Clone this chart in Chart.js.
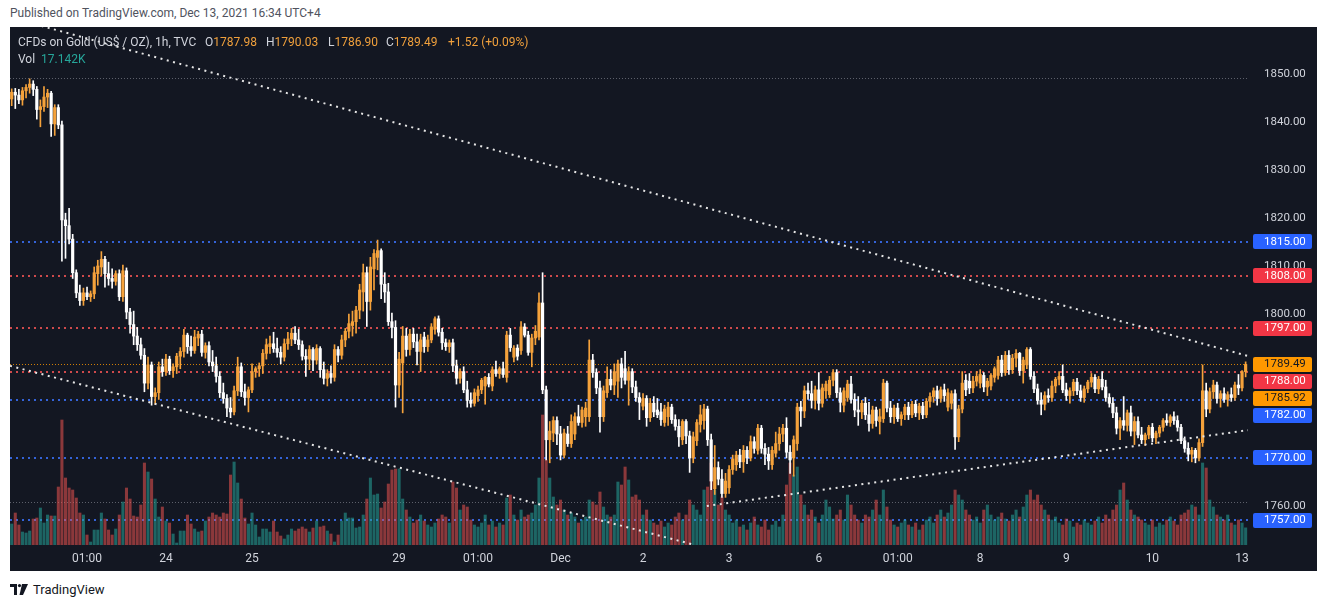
<!DOCTYPE html>
<html><head><meta charset="utf-8">
<script src="https://cdn.jsdelivr.net/npm/chart.js@4.4.0/dist/chart.umd.min.js"></script>
<style>
html,body{margin:0;padding:0;background:#fff;width:1328px;height:607px;overflow:hidden;font-family:Roboto,"Noto Sans",sans-serif;}
#pub{position:absolute;left:10px;top:6px;font-size:12px;color:#50535e;white-space:nowrap;}
#box{position:absolute;left:10px;top:27px;width:1307px;height:544px;background:#131722;}
#c{position:absolute;left:0;top:0;}
.hd{position:absolute;font-size:12px;color:#d1d4dc;white-space:nowrap;line-height:14px;}
.o{color:#f0a03c;}
.t{color:#26a69a;}
#logo{position:absolute;left:10px;top:581px;height:16px;display:flex;align-items:center;font-size:13px;color:#131722;}
#logo svg{margin-right:5px;}
</style></head>
<body>
<div id="pub">Published on TradingView.com, Dec 13, 2021 16:34 UTC+4</div>
<div id="box">
<canvas id="c" width="1307" height="544"></canvas>
<div class="hd" style="left:8px;top:8px;">CFDs on Gold (US$ / OZ), 1h, TVC</div>
<div class="hd" style="left:195px;top:8px;">O<span class="o">1787.98</span></div>
<div class="hd" style="left:256px;top:8px;">H<span class="o">1790.03</span></div>
<div class="hd" style="left:318px;top:8px;">L<span class="o">1786.90</span></div>
<div class="hd" style="left:376px;top:8px;">C<span class="o">1789.49</span></div>
<div class="hd o" style="left:438px;top:8px;">+1.52 (+0.09%)</div>
<div class="hd" style="left:8px;top:25px;">Vol <span class="t" style="margin-left:3px">17.142K</span></div>
</div>
<div id="logo"><svg width="18" height="11" viewBox="0 0 18 11"><path d="M0 0H7V11H4V3H0Z" fill="#131722"/><circle cx="9.5" cy="1.6" r="1.6" fill="#131722"/><path d="M12 0H18L13 11H9.5Z" fill="#131722"/></svg>TradingView</div>
<script>
// ---- OHLC data: [open, high, low, close] per hourly candle ----
const ohlc01 = [
[1844.8,1846.9,1843.4,1846.2],[1846.2,1847.0,1842.8,1845.6],[1845.6,1846.8,1843.8,1844.6],[1844.6,1847.2,1843.5,1846.5],[1846.5,1847.8,1845.0,1847.2],
[1847.2,1849.0,1846.0,1847.9],[1847.9,1848.6,1845.5,1846.8],[1846.8,1847.4,1840.6,1842.6],[1842.6,1844.6,1839.0,1843.2],[1843.2,1847.4,1842.2,1845.2],
[1845.2,1846.8,1843.0,1846.0],[1846.0,1846.4,1837.0,1839.6],[1839.6,1843.6,1837.2,1843.0],[1843.0,1843.6,1838.6,1839.4],[1839.4,1840.2,1811.0,1819.6],
[1819.6,1821.0,1811.6,1818.4],[1818.4,1822.0,1814.6,1815.6],[1815.6,1816.6,1807.4,1808.6],[1808.6,1809.2,1803.4,1804.4],[1804.4,1806.0,1801.8,1802.8],
[1802.8,1805.4,1801.8,1804.4],[1804.4,1805.6,1803.0,1803.6],[1803.6,1804.8,1802.6,1804.2],[1804.2,1809.8,1803.2,1808.6],[1808.4,1811.2,1806.0,1810.0]];
const ohlc02 = [
[1809.8,1813.0,1808.0,1811.4],[1811.4,1812.0,1805.6,1808.4],[1808.4,1810.8,1806.0,1807.4],[1807.4,1809.4,1805.4,1806.8],[1806.8,1809.0,1806.0,1808.4],
[1808.4,1809.2,1802.8,1803.6],[1803.6,1810.2,1802.6,1809.0],[1809.0,1809.6,1799.0,1800.4],[1800.4,1801.2,1796.0,1797.8],[1797.8,1800.6,1793.6,1795.4],
[1795.4,1797.2,1792.4,1793.6],[1793.6,1795.0,1790.6,1791.4],[1791.4,1792.8,1783.8,1785.6],[1785.6,1791.0,1784.4,1789.4],[1789.4,1790.0,1781.0,1782.8],
[1782.8,1784.6,1781.2,1783.6],[1783.6,1790.0,1782.2,1789.0],[1789.0,1790.6,1787.0,1788.0],[1788.0,1791.6,1787.2,1790.6],[1790.6,1791.2,1787.4,1788.2],
[1788.2,1789.6,1786.8,1789.0],[1789.0,1791.8,1787.6,1791.2],[1791.2,1793.0,1788.6,1792.2],[1792.2,1796.8,1791.0,1795.6],[1795.6,1796.0,1791.8,1793.2]];
const ohlc03 = [
[1793.2,1795.4,1791.2,1792.4],[1792.4,1796.6,1791.8,1795.2],[1795.0,1796.4,1793.4,1795.8],[1795.8,1796.6,1791.2,1792.0],[1792.0,1794.0,1790.8,1793.4],
[1793.4,1794.2,1789.2,1790.0],[1790.0,1792.4,1788.0,1789.2],[1789.2,1791.0,1785.8,1787.0],[1787.0,1788.0,1782.6,1783.6],[1783.6,1785.6,1781.4,1782.4],
[1782.4,1783.2,1778.6,1780.4],[1780.4,1782.6,1778.4,1779.6],[1779.6,1785.0,1779.0,1784.0],[1784.0,1791.0,1783.0,1789.0],[1789.0,1789.8,1782.8,1783.8],
[1783.8,1785.4,1781.0,1782.6],[1782.6,1784.8,1779.6,1784.2],[1784.2,1789.6,1783.6,1788.0],[1788.0,1789.0,1786.8,1788.6],[1788.6,1789.8,1787.0,1789.2],
[1789.2,1792.6,1787.6,1791.8],[1791.8,1794.8,1790.6,1793.6],[1793.2,1795.4,1791.8,1793.8],[1793.8,1796.2,1792.0,1792.8],[1792.8,1795.0,1791.0,1792.0]];
const ohlc04 = [
[1792.0,1793.2,1789.6,1791.0],[1791.0,1794.8,1790.2,1793.8],[1793.8,1796.2,1792.6,1794.8],[1794.8,1797.0,1793.4,1796.0],[1796.0,1797.4,1793.8,1794.6],
[1794.6,1796.8,1792.6,1793.6],[1793.6,1794.4,1790.4,1791.2],[1791.2,1792.6,1787.0,1790.6],[1790.6,1793.4,1788.4,1792.6],[1792.6,1793.0,1788.2,1790.4],
[1790.4,1793.6,1789.6,1792.8],[1792.8,1793.2,1786.8,1788.4],[1788.4,1790.0,1785.4,1786.6],[1786.6,1788.4,1785.0,1787.6],[1787.6,1789.2,1785.6,1786.8],
[1786.8,1793.6,1786.0,1792.6],[1792.6,1793.2,1790.0,1791.4],[1791.4,1795.6,1790.6,1794.6],[1794.6,1797.0,1793.2,1796.4],[1796.4,1800.0,1795.0,1798.0],
[1797.6,1800.6,1795.4,1798.4],[1798.4,1801.6,1796.0,1800.8],[1800.8,1806.2,1799.0,1805.0],[1804.6,1810.4,1800.6,1808.6],[1808.6,1809.8,1797.4,1802.6]];
const ohlc05 = [
[1802.6,1811.8,1800.8,1809.8],[1809.4,1813.4,1805.0,1812.6],[1811.8,1815.4,1809.2,1813.2],[1813.2,1813.6,1803.2,1806.2],[1806.2,1808.6,1802.4,1804.6],
[1804.6,1806.4,1797.6,1798.4],[1798.4,1800.2,1795.0,1797.2],[1797.2,1798.6,1780.6,1785.2],[1785.2,1792.0,1782.6,1790.6],[1789.8,1797.4,1779.4,1795.4],
[1795.4,1797.0,1791.2,1792.6],[1792.6,1796.8,1791.4,1795.8],[1795.8,1797.0,1793.0,1794.2],[1794.2,1795.8,1789.4,1792.2],[1792.2,1795.8,1788.0,1794.6],
[1795.2,1796.2,1792.0,1793.2],[1793.2,1795.6,1792.2,1794.6],[1794.6,1798.0,1794.0,1797.3],[1796.8,1799.4,1795.8,1799.0],[1799.0,1799.6,1795.4,1796.2],
[1796.2,1797.0,1792.6,1794.0],[1794.0,1794.8,1792.4,1793.2],[1793.2,1794.6,1792.0,1794.0],[1794.0,1794.8,1788.0,1789.2],[1789.2,1790.4,1785.4,1786.6]];
const ohlc06 = [
[1786.6,1788.6,1785.6,1788.0],[1788.0,1789.0,1783.6,1784.2],[1784.2,1786.0,1780.6,1782.0],[1782.0,1783.6,1780.6,1781.4],[1781.4,1784.4,1780.8,1783.6],
[1783.0,1785.0,1781.8,1784.2],[1784.2,1786.6,1783.4,1786.2],[1785.0,1787.0,1781.2,1786.8],[1786.8,1787.6,1784.8,1785.4],[1785.0,1789.0,1784.0,1788.4],
[1788.4,1790.2,1787.0,1787.6],[1787.6,1789.0,1786.6,1788.6],[1788.6,1790.0,1786.8,1787.4],[1786.8,1796.4,1785.8,1795.6],[1795.6,1797.0,1792.2,1793.0],
[1791.0,1793.4,1790.0,1792.9],[1792.9,1793.6,1790.4,1791.2],[1792.4,1798.4,1791.6,1797.3],[1797.3,1798.0,1795.2,1795.6],[1795.6,1796.4,1791.4,1792.0],
[1792.0,1795.8,1789.0,1795.0],[1795.0,1797.6,1793.6,1796.4],[1795.2,1804.4,1794.6,1802.3],[1802.3,1808.6,1783.4,1784.2],[1784.2,1785.0,1769.6,1773.8]];
const ohlc07 = [
[1773.8,1777.6,1769.0,1775.6],[1775.2,1778.6,1773.4,1777.8],[1777.8,1778.6,1772.8,1775.0],[1775.0,1776.6,1769.6,1770.6],[1770.6,1776.0,1770.0,1775.2],
[1775.0,1776.6,1772.4,1773.0],[1773.0,1779.0,1772.2,1777.6],[1775.0,1779.4,1773.8,1778.6],[1778.6,1781.0,1776.8,1777.4],[1777.4,1780.6,1776.4,1780.0],
[1778.6,1781.6,1776.6,1780.4],[1778.6,1794.6,1777.6,1790.4],[1790.4,1791.6,1786.8,1787.8],[1787.8,1788.6,1783.4,1784.6],[1784.6,1786.0,1775.4,1778.6],
[1778.6,1785.0,1777.6,1784.0],[1783.6,1789.0,1782.6,1786.4],[1786.4,1788.4,1784.2,1785.2],[1785.2,1789.6,1783.2,1788.0],[1786.0,1790.4,1782.6,1789.6],
[1789.6,1790.8,1784.6,1786.8],[1788.6,1792.2,1785.4,1786.2],[1786.2,1789.0,1781.0,1788.0],[1788.0,1788.6,1783.6,1784.8],[1784.8,1786.0,1781.8,1782.6]];
const ohlc08 = [
[1782.6,1783.6,1778.0,1781.6],[1780.8,1783.4,1780.0,1782.4],[1782.4,1783.0,1776.6,1778.4],[1778.4,1782.4,1777.6,1781.4],[1781.4,1782.8,1778.6,1779.6],
[1780.0,1782.4,1778.4,1779.0],[1779.6,1781.4,1776.8,1778.0],[1777.4,1781.0,1776.6,1780.2],[1778.6,1781.6,1776.8,1780.6],[1780.6,1781.2,1777.2,1778.0],
[1778.0,1779.0,1775.8,1776.6],[1776.6,1778.0,1772.4,1774.4],[1773.8,1778.0,1772.8,1777.6],[1777.6,1778.0,1773.0,1774.6],[1774.6,1775.6,1767.0,1770.0],
[1770.0,1775.4,1769.0,1774.4],[1773.6,1778.0,1772.6,1777.4],[1777.0,1781.0,1775.4,1779.0],[1777.8,1781.2,1776.0,1780.2],[1780.2,1780.8,1772.6,1773.8],
[1773.8,1775.0,1763.4,1765.2],[1763.6,1772.6,1762.4,1768.0],[1768.0,1769.2,1764.4,1765.6],[1765.6,1767.6,1761.8,1762.6],[1762.6,1766.8,1761.8,1765.2]];
const ohlc09 = [
[1763.8,1768.4,1762.6,1767.6],[1767.6,1770.6,1766.6,1769.8],[1768.6,1771.4,1767.4,1770.6],[1770.6,1771.8,1768.0,1769.2],[1769.2,1772.6,1767.0,1771.6],
[1771.6,1772.4,1768.8,1770.0],[1770.0,1774.6,1769.4,1773.4],[1773.4,1774.4,1771.0,1772.0],[1771.6,1777.0,1770.8,1776.2],[1776.2,1776.8,1771.0,1772.0],
[1772.0,1773.0,1768.6,1770.8],[1770.8,1772.2,1767.6,1769.4],[1768.6,1772.4,1767.6,1771.6],[1771.0,1775.4,1770.2,1773.0],[1773.0,1776.4,1771.6,1775.0],
[1775.0,1777.0,1773.4,1776.2],[1776.2,1778.4,1770.0,1771.2],[1771.2,1772.6,1766.8,1769.6],[1770.0,1774.6,1766.2,1773.8],[1773.0,1781.4,1771.6,1780.6],
[1780.6,1781.8,1776.6,1779.8],[1779.8,1785.0,1778.4,1784.0],[1784.0,1785.6,1782.2,1783.4],[1783.4,1786.0,1780.4,1782.0],[1782.0,1785.0,1780.2,1784.2]];
const ohlc10 = [
[1784.2,1787.8,1780.0,1781.4],[1781.4,1785.4,1780.6,1784.6],[1784.0,1786.0,1782.4,1785.4],[1783.2,1787.0,1782.6,1786.2],[1786.2,1788.4,1785.0,1787.8],
[1787.8,1788.4,1782.6,1783.6],[1783.6,1784.6,1779.6,1781.6],[1781.0,1784.6,1779.6,1784.0],[1782.6,1786.2,1781.8,1785.4],[1785.4,1787.0,1781.4,1782.2],
[1782.2,1783.4,1778.6,1780.0],[1780.0,1782.8,1776.8,1779.6],[1779.6,1782.0,1778.2,1781.4],[1781.4,1782.6,1778.0,1779.0],[1779.0,1781.6,1775.6,1777.2],
[1777.2,1780.8,1776.2,1780.0],[1780.0,1780.6,1776.6,1777.8],[1777.6,1780.2,1775.0,1778.6],[1778.2,1786.4,1777.4,1785.6],[1785.6,1786.0,1779.6,1780.4],
[1780.4,1781.8,1777.4,1778.6],[1778.6,1781.0,1777.2,1780.4],[1780.4,1781.4,1777.6,1778.2],[1778.2,1779.6,1776.8,1779.0],[1779.0,1781.2,1778.0,1780.6]];
const ohlc11 = [
[1780.6,1781.6,1778.0,1779.0],[1779.0,1781.8,1778.4,1781.2],[1781.2,1782.0,1778.6,1779.4],[1779.4,1781.4,1778.0,1780.8],[1780.8,1781.6,1778.2,1779.0],
[1779.0,1782.4,1778.4,1781.8],[1781.8,1783.6,1780.6,1782.8],[1782.8,1784.6,1781.6,1784.0],[1784.0,1785.0,1781.0,1782.4],[1782.4,1784.8,1781.6,1784.2],
[1784.2,1785.4,1781.8,1783.0],[1780.6,1784.4,1779.8,1783.6],[1781.4,1784.0,1780.2,1783.4],[1783.4,1784.2,1771.8,1774.4],[1774.4,1781.0,1773.4,1780.2],
[1780.2,1788.0,1779.4,1785.6],[1786.2,1787.4,1783.0,1784.2],[1786.0,1787.6,1783.4,1784.6],[1784.6,1787.0,1783.6,1786.0],[1786.0,1788.0,1785.0,1787.0],
[1785.6,1788.4,1784.6,1787.4],[1787.2,1787.8,1783.8,1784.8],[1784.8,1786.6,1783.0,1786.0],[1785.0,1787.6,1784.2,1787.2],[1786.8,1789.0,1785.8,1788.6]];
const ohlc12 = [
[1787.2,1791.2,1786.4,1790.4],[1790.4,1791.4,1787.0,1787.8],[1787.8,1792.2,1787.2,1791.4],[1791.4,1792.4,1787.4,1788.4],[1788.4,1791.6,1787.6,1790.8],
[1790.8,1792.6,1789.0,1791.8],[1791.8,1792.0,1787.2,1788.2],[1788.2,1791.0,1785.6,1790.4],[1789.4,1793.0,1788.6,1792.6],[1792.6,1793.0,1786.4,1787.0],
[1787.0,1788.0,1783.6,1784.4],[1784.4,1785.4,1781.2,1782.0],[1782.0,1783.6,1779.0,1781.2],[1781.2,1783.8,1780.0,1783.0],[1783.0,1784.4,1781.6,1782.6],
[1782.6,1786.0,1781.8,1785.0],[1785.0,1786.8,1783.6,1786.4],[1786.4,1788.0,1785.2,1787.0],[1787.0,1789.4,1783.6,1784.2],[1784.2,1785.6,1782.0,1783.0],
[1783.0,1784.6,1781.4,1784.0],[1784.0,1786.4,1783.0,1785.8],[1785.8,1786.6,1783.2,1784.0],[1784.0,1785.2,1781.8,1782.6],[1782.6,1785.0,1781.6,1784.4]];
const ohlc13 = [
[1784.4,1786.2,1783.6,1785.8],[1785.8,1787.6,1784.8,1786.8],[1786.8,1787.4,1783.6,1784.4],[1784.4,1787.0,1783.4,1786.4],[1786.4,1788.0,1784.2,1784.8],
[1784.8,1786.2,1781.8,1782.6],[1782.6,1783.4,1780.6,1781.4],[1781.4,1782.6,1778.4,1779.4],[1779.4,1780.6,1775.0,1776.2],[1776.2,1778.4,1773.8,1777.8],
[1777.8,1782.8,1775.8,1776.8],[1776.8,1780.0,1775.6,1779.4],[1779.4,1780.8,1774.6,1775.6],[1775.6,1778.6,1772.8,1777.6],[1777.6,1778.6,1774.2,1774.8],
[1774.8,1776.4,1773.0,1773.8],[1773.8,1775.2,1772.6,1774.8],[1774.8,1776.8,1774.0,1776.4],[1776.4,1777.2,1773.4,1774.2],[1774.2,1775.6,1773.0,1775.2],
[1775.2,1776.8,1774.4,1776.4],[1776.4,1778.2,1775.6,1777.8],[1777.8,1779.2,1776.8,1777.4],[1777.4,1779.0,1776.6,1778.6],[1778.6,1779.6,1777.0,1777.8]];
const ohlc14 = [
[1777.8,1778.8,1775.6,1776.4],[1776.4,1777.0,1773.0,1773.6],[1773.6,1774.4,1771.2,1772.0],[1772.0,1773.2,1769.4,1770.8],[1770.8,1772.2,1769.2,1771.6],
[1771.6,1772.0,1769.0,1770.0],[1770.0,1774.0,1769.4,1773.2],[1773.2,1789.4,1772.4,1784.0],[1784.0,1785.6,1778.6,1780.2],[1780.2,1784.6,1779.4,1783.8],
[1783.8,1786.2,1782.4,1785.2],[1785.2,1785.8,1781.4,1782.4],[1782.4,1784.0,1780.6,1783.4],[1783.4,1784.6,1781.6,1782.2],[1782.2,1783.8,1780.8,1783.2],
[1783.2,1784.6,1781.8,1782.6],[1782.6,1785.8,1782.0,1785.2],[1785.2,1787.4,1783.2,1784.6],[1784.6,1788.2,1784.0,1787.98],[1787.98,1790.03,1786.90,1789.49]];

// ---- Volume (K) per candle ----
const vol01 = [21,32,20,13,12,14,26,27,37,22,30,29,29,58,125,67,57,55,47,32,30,10,3,15,15];
const vol02 = [32,26,15,10,16,30,43,57,46,29,28,40,82,73,66,46,28,38,24,22,11,2,14,14,30];
const vol03 = [21,16,13,14,24,28,32,30,28,32,31,70,83,62,46,27,21,32,20,8,16,16,13,24,13];
const vol04 = [9,6,10,16,14,16,18,16,13,17,24,18,19,14,11,3,10,24,32,27,27,17,18,30,46];
const vol05 = [67,50,51,37,43,61,75,76,76,46,35,28,22,25,30,24,20,18,22,26,30,28,22,63,57];
const vol06 = [35,40,38,25,20,18,22,30,20,24,18,22,20,47,50,30,25,35,28,30,32,40,67,130,85];
const vol07 = [67,48,40,45,35,30,32,28,22,25,28,45,43,40,53,38,30,28,30,63,60,78,65,48,50];
const vol08 = [45,30,35,25,22,20,24,18,22,20,28,32,25,30,45,40,35,30,55,58,82,55,40,48,35];
const vol09 = [30,22,25,18,20,15,22,28,20,18,25,15,20,24,18,30,60,82,70,78,50,40,30,35,28];
const vol10 = [22,30,45,38,26,30,35,25,50,40,30,25,22,30,28,35,45,30,55,38,25,20,18,22,25];
const vol11 = [20,18,22,15,20,25,28,22,30,35,28,32,40,55,50,45,35,30,25,28,22,35,40,30,25];
const vol12 = [28,32,26,24,30,35,28,38,50,55,45,50,40,35,30,25,28,22,20,26,24,18,22,20,25];
const vol13 = [22,20,24,28,22,30,26,35,40,55,62,45,35,30,28,25,22,20,25,18,22,20,25,28,24];
const vol14 = [20,30,32,35,40,38,30,82,77,45,38,30,28,25,30,22,20,25,22,17.142];

// ---- Axis labels ----
const priceTicks = [1760, 1800, 1810, 1820, 1830, 1840, 1850];
const timeTickIndex = [21, 43, 67, 108, 130, 153, 176, 200, 225, 247, 270, 294, 318, 343];
const timeTickLabels = ["01:00","24","25","29","01:00","Dec","2","3","6","01:00","8","9","10","13"];

// ---- Drawn levels / annotations ----
const blueLevels = [1815, 1782, 1770, 1757];
const redLevels = [1808, 1797, 1788];
const lastPrice = 1789.49;
const extraMarker = 1785.92;
const rangeLines = [1849.2, 1760.8];
// trend lines: [startIndex, startPrice, endIndex, endPrice]
const trendLines = [
  [-0.47, 1861.8, 344.66, 1791.25],
  [-0.47, 1789.2, 190.4, 1751.9],
  [193.8, 1760.0, 344.66, 1775.8]
];

const candles = [].concat(ohlc01,ohlc02,ohlc03,ohlc04,ohlc05,ohlc06,ohlc07,ohlc08,ohlc09,ohlc10,ohlc11,ohlc12,ohlc13,ohlc14);
const volumes = [].concat(vol01,vol02,vol03,vol04,vol05,vol06,vol07,vol08,vol09,vol10,vol11,vol12,vol13,vol14);

const UP = '#f5a23b', DOWN = '#ffffff';
const VUP = 'rgba(38,166,154,0.55)', VDN = 'rgba(239,83,80,0.55)';
const isUp = candles.map(k => k[3] >= k[0]);

const bodyData = candles.map((k,i) => ({x:i, y:[Math.min(k[0],k[3]), Math.max(k[0],k[3])]}));
const wickData = candles.map((k,i) => ({x:i, y:[k[2], k[1]]}));
const volData = volumes.map((v,i) => ({x:i, y:v}));

const FONT = {family:'Roboto, "Noto Sans", sans-serif', size:11.5};

const annot = {
  id:'annot',
  beforeDatasetsDraw(chart){
    const {ctx, chartArea:a, scales:{y}} = chart;
    ctx.save();
    ctx.beginPath(); ctx.rect(a.left, a.top, a.right-a.left, a.bottom-a.top); ctx.clip();
    const hline = (v, color, w, dash) => {
      const py = Math.round(y.getPixelForValue(v)) + (w % 2 ? 0.5 : 0);
      ctx.strokeStyle = color; ctx.lineWidth = w; ctx.setLineDash(dash);
      ctx.beginPath(); ctx.moveTo(a.left, py); ctx.lineTo(a.right, py); ctx.stroke();
    };
    rangeLines.forEach(v => hline(v, '#5d606b', 1, [1,2]));
    blueLevels.forEach(v => hline(v, '#3463d9', 2, [2,4]));
    redLevels.forEach(v => hline(v, '#cf4a4c', 2, [2,4]));
    hline(lastPrice, 'rgba(255,152,0,0.8)', 1, [1,2]);
    ctx.restore();
  },
  afterDatasetsDraw(chart){
    const {ctx, chartArea:a, scales:{x,y}} = chart;
    ctx.save();
    ctx.beginPath(); ctx.rect(a.left, a.top, a.right-a.left, a.bottom-a.top); ctx.clip();
    ctx.strokeStyle = '#e6e6e6'; ctx.lineWidth = 2; ctx.setLineDash([2,4.5]);
    trendLines.forEach(t => {
      ctx.beginPath();
      ctx.moveTo(x.getPixelForValue(t[0]), y.getPixelForValue(t[1]));
      ctx.lineTo(x.getPixelForValue(t[2]), y.getPixelForValue(t[3]));
      ctx.stroke();
    });
    ctx.restore();
  },
  afterDraw(chart){
    const {ctx, chartArea:a, scales:{y}} = chart;
    const badges = [];
    blueLevels.forEach(v => badges.push({v, bg:'#2962ff', fg:'#ffffff'}));
    redLevels.forEach(v => badges.push({v, bg:'#f23645', fg:'#ffffff'}));
    badges.push({v:lastPrice, bg:'#ff9800', fg:'#131722'});
    badges.push({v:extraMarker, bg:'#ff9800', fg:'#131722'});
    badges.sort((p,q) => q.v - p.v);
    let prev = -1e9;
    ctx.save();
    ctx.font = `${FONT.size}px ${FONT.family}`;
    ctx.textBaseline = 'middle'; ctx.textAlign = 'left';
    badges.forEach(b => {
      let py = y.getPixelForValue(b.v);
      if (py < prev + 17) py = prev + 17;
      prev = py;
      const bx = a.right + 5, bw = 59, bh = 15;
      ctx.fillStyle = b.bg;
      ctx.beginPath();
      if (ctx.roundRect) ctx.roundRect(bx, Math.round(py - bh/2), bw, bh, 2); else ctx.rect(bx, Math.round(py-bh/2), bw, bh);
      ctx.fill();
      ctx.fillStyle = b.fg;
      ctx.fillText(b.v.toFixed(2), a.right + 16, Math.round(py) + 0.5);
    });
    ctx.restore();
  }
};

new Chart(document.getElementById('c'), {
  type:'bar',
  data:{datasets:[
    {label:'vol', data:volData, yAxisID:'yv', order:3, grouped:false, barThickness:2.4,
     backgroundColor: c => isUp[c.dataIndex] ? VUP : VDN, borderWidth:0},
    {label:'wick', data:wickData, yAxisID:'y', order:2, grouped:false, barThickness:1,
     backgroundColor: c => isUp[c.dataIndex] ? UP : DOWN, borderWidth:0},
    {label:'body', data:bodyData, yAxisID:'y', order:1, grouped:false, barThickness:2.5, minBarLength:1,
     backgroundColor: c => isUp[c.dataIndex] ? UP : DOWN, borderWidth:0}
  ]},
  options:{
    responsive:false, animation:false, events:[],
    layout:{padding:0},
    plugins:{legend:{display:false}, tooltip:{enabled:false}},
    scales:{
      x:{type:'linear', min:-0.474, max:344.66, offset:false,
         grid:{display:false, drawTicks:false}, border:{display:false},
         afterBuildTicks: s => { s.ticks = timeTickIndex.map(v => ({value:v})); },
         afterFit: s => { s.height = 26; s.paddingLeft = 0; s.paddingRight = 0; },
         ticks:{autoSkip:false, maxRotation:0, padding:7, color:'#d1d4dc', font:{...FONT, size:12},
                callback:(v,i) => timeTickLabels[i]}},
      y:{type:'linear', position:'right', min:1751.875, max:1859.79,
         grid:{display:false, drawTicks:false}, border:{display:false},
         afterBuildTicks: s => { s.ticks = priceTicks.map(v => ({value:v})); },
         afterFit: s => { s.width = 69; s.paddingTop = 0; s.paddingBottom = 0; },
         ticks:{padding:16, color:'#d1d4dc', font:FONT, callback:v => Number(v).toFixed(2)}},
      yv:{type:'linear', display:false, min:0, max:518}
    }
  },
  plugins:[annot]
});
</script>
</body></html>
